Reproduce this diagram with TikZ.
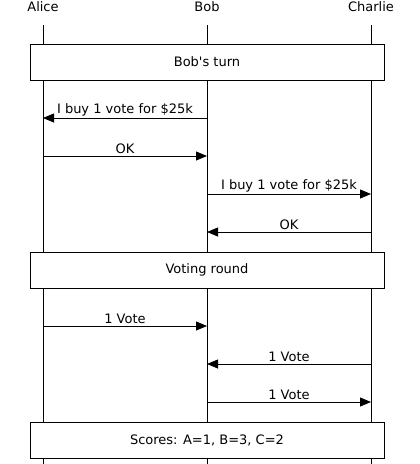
\documentclass[tikz,border=0pt]{standalone}
\usepackage{fontspec}
\setmainfont{DejaVu Sans}[Ligatures=TeXOff]
\usetikzlibrary{arrows.meta}
\tikzset{
  msg/.style={-{Triangle[length=11pt,width=9pt]},line width=0.8pt},
  lbl/.style={above,inner sep=1.5pt},
  life/.style={line width=0.8pt},
  frame/.style={draw,fill=white,line width=0.8pt,minimum width=354pt,minimum height=36pt,inner sep=0pt},
}
\begin{document}
\begin{tikzpicture}[x=1pt,y=-1pt,font=\fontsize{13}{15}\selectfont]
        \useasboundingbox (0,0) rectangle (420,464);
        \node (alice) at (43,7) {Alice};
        \node (bob) at (207,7) {Bob};
        \node (charlie) at (371,7) {Charlie};
        \coordinate (alice top) at (43,25);
        \coordinate (bob top) at (207,25);
        \coordinate (charlie top) at (371,25);
        \coordinate (alice end) at (43,464);
        \coordinate (bob end) at (207,464);
        \coordinate (charlie end) at (371,464);
        \draw[life] (alice top) -- (alice end);
        \draw[life] (bob top) -- (bob end);
        \draw[life] (charlie top) -- (charlie end);
        \node[frame] (turn) at (207,62) {Bob's turn};
        \node[frame] (round) at (207,270) {Voting round};
        \node[frame] (scores) at (207,440) {Scores: A=1, B=3, C=2};
        \coordinate (a1) at (43,118);
        \coordinate (b1) at (207,118);
        \coordinate (a2) at (43,156);
        \coordinate (b2) at (207,156);
        \coordinate (b3) at (207,194);
        \coordinate (c3) at (371,194);
        \coordinate (b4) at (207,232);
        \coordinate (c4) at (371,232);
        \coordinate (a5) at (43,326);
        \coordinate (b5) at (207,326);
        \coordinate (b6) at (207,364);
        \coordinate (c6) at (371,364);
        \coordinate (b7) at (207,402);
        \coordinate (c7) at (371,402);
        \draw[msg] (b1) -- node[lbl] {I buy 1 vote for \$25k} (a1);
        \draw[msg] (a2) -- node[lbl] {OK} (b2);
        \draw[msg] (b3) -- node[lbl] {I buy 1 vote for \$25k} (c3);
        \draw[msg] (c4) -- node[lbl] {OK} (b4);
        \draw[msg] (a5) -- node[lbl] {1 Vote} (b5);
        \draw[msg] (c6) -- node[lbl] {1 Vote} (b6);
        \draw[msg] (b7) -- node[lbl] {1 Vote} (c7);
      \end{tikzpicture}
\end{document}
